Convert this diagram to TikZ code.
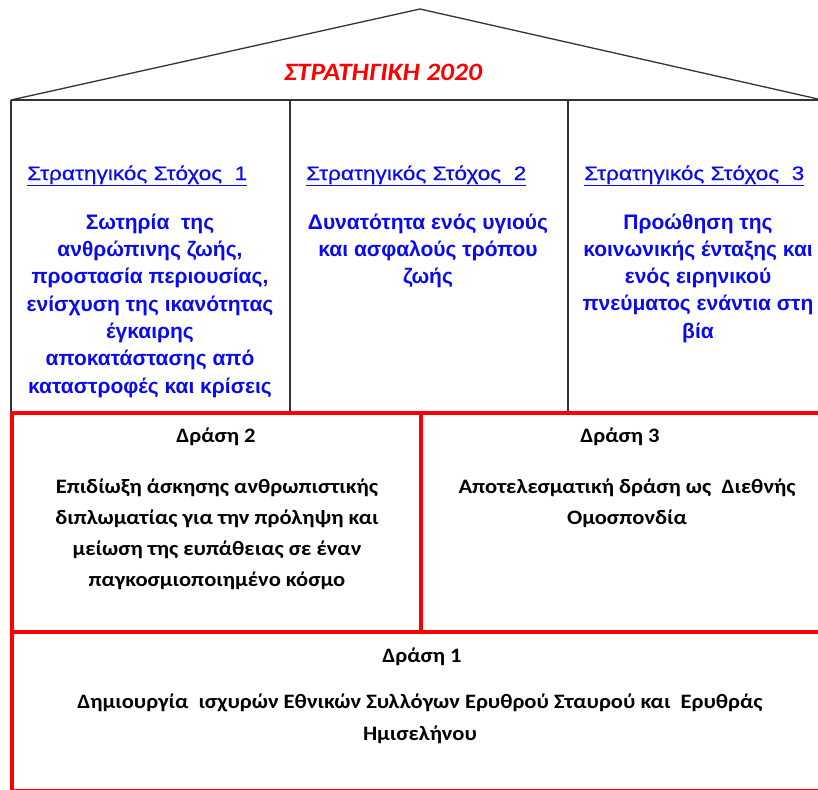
\documentclass[tikz,border=0pt]{standalone}
\usepackage{fontspec}
\setmainfont{Liberation Sans}
\newfontfamily\headfont[FakeStretch=1.16,FakeBold=0.5]{Liberation Sans}
\newfontfamily\actfont[FakeStretch=1.1]{Carlito}
\definecolor{tblue}{RGB}{10,10,240}
\definecolor{tred}{RGB}{255,0,0}
\tikzset{
  frame/.style={draw=black!80, line width=1.3pt},
  redframe/.style={draw=tred, line width=4pt},
  title/.style={inner sep=0pt, anchor=base, text=tred, font=\actfont\bfseries\itshape\fontsize{25}{30}\selectfont},
  goalhead/.style={inner sep=0pt, anchor=base west, text=tblue, font=\headfont\fontsize{19.5}{27.3}\selectfont},
  goalbody/.style={inner sep=0pt, anchor=base, align=center, text=tblue, font=\bfseries\fontsize{21}{27.3}\selectfont},
  acthead/.style={inner sep=0pt, anchor=base, font=\actfont\bfseries\fontsize{20.5}{31}\selectfont},
  actbody/.style={inner sep=0pt, anchor=base, align=center, font=\actfont\bfseries\fontsize{20.5}{31}\selectfont}
}
\begin{document}
\begin{tikzpicture}[x=1pt,y=-1pt]
\useasboundingbox (0,0) rectangle (818,789);
% roof and goal columns
\draw[frame] (11,100) -- (420,9) -- (818,99);
\draw[frame] (11,100) -- (830,100);
\draw[frame] (11,100) -- (11,413);
\draw[frame] (290,100) -- (290,413);
\draw[frame] (568,100) -- (568,413);
% red action boxes
\draw[redframe] (12,413) -- (830,413);
\draw[redframe] (12,411) -- (12,792);
\draw[redframe] (421,413) -- (421,632);
\draw[redframe] (12,632) -- (830,632);
\draw[redframe] (12,791) -- (830,791);

\node[title] (title) at (383,81) {ΣΤΡΑΤΗΓΙΚΗ 2020};

\node[goalhead] (g1h) at (27,180) {\underline{Στρατηγικός Στόχος\ \ 1}};
\node[goalhead] (g2h) at (306,180) {\underline{Στρατηγικός Στόχος\ \ 2}};
\node[goalhead] (g3h) at (584,180) {\underline{Στρατηγικός Στόχος\ \ 3}};

% anchor base = baseline of the last line
\node[goalbody] (g1b) at (150,393) {Σωτηρία\ \ της\\ ανθρώπινης ζωής,\\ προστασία περιουσίας,\\ ενίσχυση της ικανότητας\\ έγκαιρης\\ αποκατάστασης από\\ καταστροφές και κρίσεις};
\node[goalbody] (g2b) at (428,283.6) {Δυνατότητα ενός υγιούς\\ και ασφαλούς τρόπου\\ ζωής};
\node[goalbody] (g3b) at (698,338.2) {Προώθηση της\\ κοινωνικής ένταξης και\\ ενός ειρηνικού\\ πνεύματος ενάντια στη\\ βία};

\node[acthead] (a2h) at (216,442) {Δράση 2};
\node[actbody] (a2b) at (217,586) {Επιδίωξη άσκησης ανθρωπιστικής\\ διπλωματίας για την πρόληψη και\\ μείωση της ευπάθειας σε έναν\\ παγκοσμιοποιημένο κόσμο};
\node[acthead] (a3h) at (620,442) {Δράση 3};
\node[actbody] (a3b) at (627,524) {Αποτελεσματική δράση ως\ \ Διεθνής\\ Ομοσπονδία};
\node[acthead] (a1h) at (422,662) {Δράση 1};
\node[actbody] (a1b) at (420,740) {Δημιουργία\ \ ισχυρών Εθνικών Συλλόγων Ερυθρού Σταυρού και\ \ Ερυθράς\\[0.03pt] Ημισελήνου};
\end{tikzpicture}
\end{document}
